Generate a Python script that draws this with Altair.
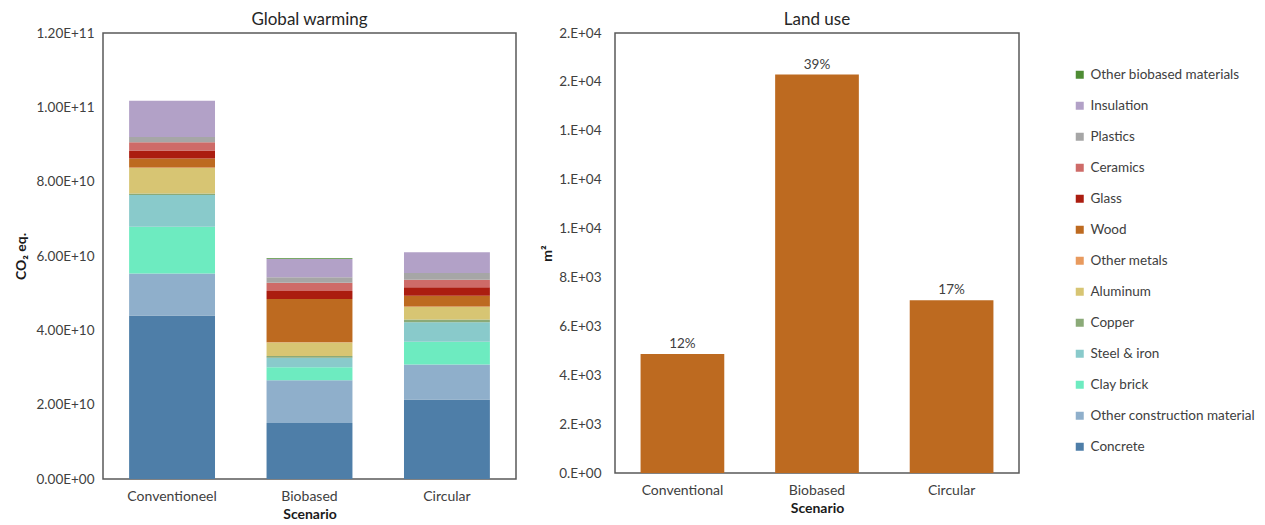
import altair as alt
import pandas as pd

# ---- data ----
SCENARIOS_GW = ["Conventioneel", "Biobased", "Circular"]
MATERIALS = ["Concrete", "Other construction material", "Clay brick", "Steel & iron",
             "Copper", "Aluminum", "Other metals", "Wood", "Glass", "Ceramics",
             "Plastics", "Insulation", "Other biobased materials"]
COLORS = ["#4E7EA8", "#8FAFCB", "#6DEBC0", "#89CACB", "#8BAA78", "#D7C573",
          "#E89A5E", "#BD6A20", "#AB1D10", "#CE6B68", "#A6A6A6", "#B2A1C7", "#4E8C34"]
GW_CONVENTIONEEL = [44.0e9, 11.3e9, 12.6e9, 8.5e9, 0.4e9, 6.9e9, 0.1e9, 2.4e9, 2.2e9, 2.2e9, 1.4e9, 9.8e9, 0.0]
GW_BIOBASED = [15.1e9, 11.5e9, 3.5e9, 2.5e9, 0.5e9, 3.6e9, 0.1e9, 11.6e9, 2.2e9, 2.2e9, 1.5e9, 4.9e9, 0.2e9]
GW_CIRCULAR = [21.4e9, 9.4e9, 6.1e9, 5.3e9, 0.7e9, 3.4e9, 0.1e9, 2.9e9, 2.3e9, 2.0e9, 1.8e9, 5.6e9, 0.0]

SCENARIOS_LU = ["Conventional", "Biobased", "Circular"]
LAND_USE = [4870, 16300, 7070]
LAND_PCT = ["12%", "39%", "17%"]

LEFT_TICKS = [0, 2e10, 4e10, 6e10, 8e10, 1e11, 1.2e11]
LEFT_TICK_LABELS = ["0.00E+00", "2.00E+10", "4.00E+10", "6.00E+10", "8.00E+10", "1.00E+11", "1.20E+11"]
RIGHT_TICKS = [0, 2000, 4000, 6000, 8000, 10000, 12000, 14000, 16000, 18000]
RIGHT_TICK_LABELS = ["0.E+00", "2.E+03", "4.E+03", "6.E+03", "8.E+03", "1.E+04", "1.E+04", "1.E+04", "2.E+04", "2.E+04"]

FONT = "Lato"


def label_expr(ticks, labels):
    expr = "''"
    for t, l in reversed(list(zip(ticks, labels))):
        expr = f"abs(datum.value - {t}) < {max(t, 1) * 1e-6 + 1e-9} ? '{l}' : ({expr})"
    return expr


rows = []
for scen, vals in zip(SCENARIOS_GW, [GW_CONVENTIONEEL, GW_BIOBASED, GW_CIRCULAR]):
    for i, (m, v) in enumerate(zip(MATERIALS, vals)):
        rows.append({"scenario": scen, "material": m, "value": v, "idx": i})
gw = pd.DataFrame(rows)

lu = pd.DataFrame({"scenario": SCENARIOS_LU, "value": LAND_USE, "pct": LAND_PCT})

legend_domain = list(reversed(MATERIALS))
legend_range = list(reversed(COLORS))

x_axis = dict(title="Scenario", labelAngle=0, labelFontSize=14, labelPadding=10,
              titleFontSize=14, titleFontWeight="bold", titlePadding=4)

left = alt.Chart(gw).mark_bar().encode(
    x=alt.X("scenario:N", sort=SCENARIOS_GW,
            scale=alt.Scale(paddingInner=0.375, paddingOuter=0.19),
            axis=alt.Axis(**x_axis)),
    y=alt.Y("value:Q", stack="zero",
            scale=alt.Scale(domain=[0, 1.2e11], nice=False),
            axis=alt.Axis(title="CO₂ eq.", values=LEFT_TICKS,
                          labelExpr=label_expr(LEFT_TICKS, LEFT_TICK_LABELS),
                          labelFontSize=13.5, labelPadding=9,
                          titleFontSize=14, titleFontWeight="bold", titlePadding=8)),
    color=alt.Color("material:N", scale=alt.Scale(domain=legend_domain, range=legend_range),
                    legend=alt.Legend(title=None, orient="none", legendX=970, legendY=35,
                                      symbolType="square", symbolSize=64, symbolStrokeWidth=0,
                                      labelFontSize=13.5, rowPadding=16, labelLimit=300,
                                      labelColor="#404040")),
    order=alt.Order("idx:Q", sort="ascending"),
).properties(width=413, height=446, title=alt.TitleParams("Global warming", fontSize=17,
                                                          fontWeight="normal", offset=-3))

bars = alt.Chart(lu).mark_bar(color="#BD6A20").encode(
    x=alt.X("scenario:N", sort=SCENARIOS_LU,
            scale=alt.Scale(paddingInner=0.378, paddingOuter=0.19),
            axis=alt.Axis(**x_axis)),
    y=alt.Y("value:Q", scale=alt.Scale(domain=[0, 18000], nice=False),
            axis=alt.Axis(title="m²", values=RIGHT_TICKS,
                          labelExpr=label_expr(RIGHT_TICKS, RIGHT_TICK_LABELS),
                          labelFontSize=13.5, labelPadding=14,
                          titleFontSize=14, titleFontWeight="bold", titlePadding=4)),
)
texts = alt.Chart(lu).mark_text(dy=-10, fontSize=13.5, color="#404040", font=FONT).encode(
    x=alt.X("scenario:N", sort=SCENARIOS_LU),
    y=alt.Y("value:Q"),
    text="pct:N",
)
right = alt.layer(bars, texts).properties(
    width=404, height=440,
    title=alt.TitleParams("Land use", fontSize=17, fontWeight="normal", offset=-3))

chart = alt.hconcat(left, right, spacing=22).properties(
    padding={"left": 5, "top": 2, "right": 0, "bottom": 0}
).configure(font=FONT).configure_view(
    stroke="#595959", strokeWidth=1.5
).configure_axis(
    domain=False, ticks=False, grid=False, labelColor="#404040", titleColor="#1a1a1a",
    labelFont=FONT, titleFont=FONT
).configure_title(color="#262626", font=FONT).configure_legend(labelFont=FONT)

chart.save("out.html", embed_options={"renderer": "svg", "actions": False})
